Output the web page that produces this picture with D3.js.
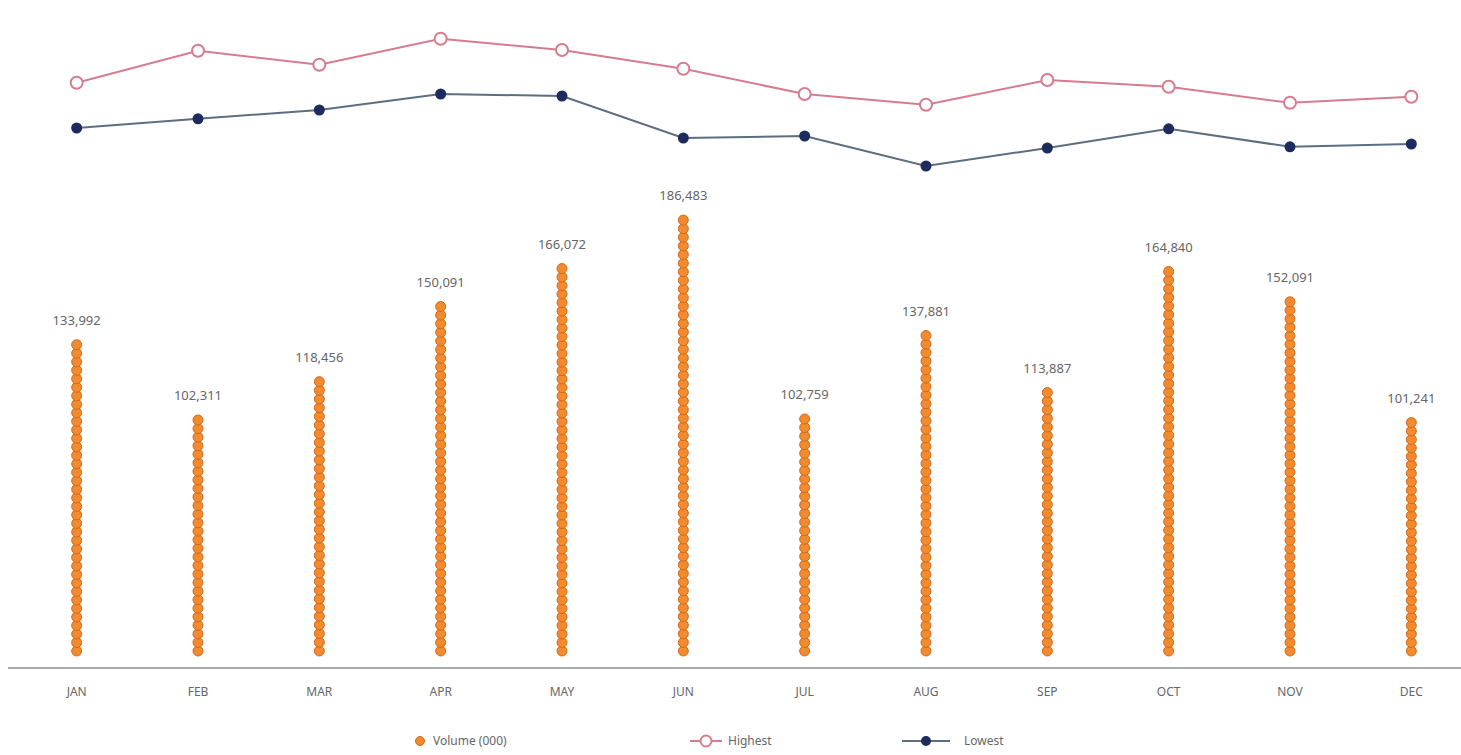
<!DOCTYPE html>
<html>
<head>
<meta charset="utf-8">
<script src="https://cdn.jsdelivr.net/npm/d3@7"></script>
<style>
  html, body { margin: 0; padding: 0; background: #fff; }
  svg { display: block; font-family: "Noto Sans", "DejaVu Sans", sans-serif; }
</style>
</head>
<body>
<svg id="chart" width="1461" height="755"></svg>
<script>
// Monthly volume with highest / lowest price lines
const months = ["JAN", "FEB", "MAR", "APR", "MAY", "JUN", "JUL", "AUG", "SEP", "OCT", "NOV", "DEC"];
const volume = [133992, 102311, 118456, 150091, 166072, 186483, 102759, 137881, 113887, 164840, 152091, 101241];
const highest = [26.8, 34.8, 31.3, 37.8, 35.0, 30.3, 24.0, 21.3, 27.5, 25.8, 21.8, 23.3];
const lowest  = [15.5, 17.8, 20.0, 24.0, 23.5, 13.0, 13.5, 6.0, 10.5, 15.3, 10.8, 11.5];
const legendNames = ["Volume (000)", "Highest", "Lowest"];

const W = 1461, H = 755;
const svg = d3.select("#chart");

const x = d3.scaleBand().domain(months).range([16, 1472]).padding(0);
const cx = m => x(m) + x.bandwidth() / 2;

// volume scale (lower panel); columns stand a little above the axis line
const axisY = 668;
const volBase = 658;
const yVol = d3.scaleLinear().domain([0, 200000]).range([volBase, volBase - 475]);

// price scale (upper panel)
const yPrice = d3.scaleLinear().domain([0, 40]).range([190, 30]);

const orange = "#f28a2e", orangeDark = "#d2691e";
const pink = "#d77b8f", navy = "#1d2b5e", navyLine = "#5d6e80";

// bead columns
const r = 5, step = 8.6;
months.forEach((m, i) => {
  const top = yVol(volume[i]);
  const bottom = yVol(0) - 2;
  const n = Math.max(1, Math.round((bottom - top) / step));
  const beads = d3.range(n).map(k => bottom - r - k * ((bottom - top - 2 * r) / Math.max(1, n - 1)));
  svg.append("g").selectAll("circle").data(beads).join("circle")
    .attr("cx", cx(m)).attr("cy", d => d).attr("r", r)
    .attr("fill", orange).attr("stroke", orangeDark).attr("stroke-width", 1);
  svg.append("text")
    .attr("x", cx(m)).attr("y", top - 15)
    .attr("text-anchor", "middle")
    .attr("font-size", 13).attr("fill", "#666")
    .text(d3.format(",")(volume[i]));
});

// axis
svg.append("line").attr("x1", 8).attr("x2", W).attr("y1", axisY).attr("y2", axisY)
  .attr("stroke", "#aaa").attr("stroke-width", 2);
const xAxis = svg.append("g").attr("transform", `translate(0,${axisY})`)
  .call(d3.axisBottom(x).tickSize(0).tickPadding(19));
xAxis.select(".domain").remove();
xAxis.selectAll("text").attr("font-size", 12).attr("fill", "#666")
  .attr("font-family", "\"Noto Sans\", \"DejaVu Sans\", sans-serif");

// lines
const line = vals => d3.line().x((d, i) => cx(months[i])).y(d => yPrice(d))(vals);

svg.append("path").attr("d", line(highest)).attr("fill", "none")
  .attr("stroke", pink).attr("stroke-width", 2);
svg.append("g").selectAll("circle").data(highest).join("circle")
  .attr("cx", (d, i) => cx(months[i])).attr("cy", d => yPrice(d)).attr("r", 6)
  .attr("fill", "#fff").attr("stroke", pink).attr("stroke-width", 2);

svg.append("path").attr("d", line(lowest)).attr("fill", "none")
  .attr("stroke", navyLine).attr("stroke-width", 2);
svg.append("g").selectAll("circle").data(lowest).join("circle")
  .attr("cx", (d, i) => cx(months[i])).attr("cy", d => yPrice(d)).attr("r", 5.5)
  .attr("fill", navy);

// legend
const ly = 741;
const lg = svg.append("g").attr("font-size", 12).attr("fill", "#666");
lg.append("circle").attr("cx", 420).attr("cy", ly).attr("r", 4.5).attr("fill", orange).attr("stroke", orangeDark);
lg.append("text").attr("x", 433).attr("y", ly + 4).text(legendNames[0]);

lg.append("line").attr("x1", 690).attr("x2", 722).attr("y1", ly).attr("y2", ly).attr("stroke", pink).attr("stroke-width", 2);
lg.append("circle").attr("cx", 706).attr("cy", ly).attr("r", 5.5).attr("fill", "#fff").attr("stroke", pink).attr("stroke-width", 2);
lg.append("text").attr("x", 728).attr("y", ly + 4).text(legendNames[1]);

lg.append("line").attr("x1", 902).attr("x2", 950).attr("y1", ly).attr("y2", ly).attr("stroke", navyLine).attr("stroke-width", 2);
lg.append("circle").attr("cx", 926).attr("cy", ly).attr("r", 5).attr("fill", navy);
lg.append("text").attr("x", 964).attr("y", ly + 4).text(legendNames[2]);
</script>
</body>
</html>
